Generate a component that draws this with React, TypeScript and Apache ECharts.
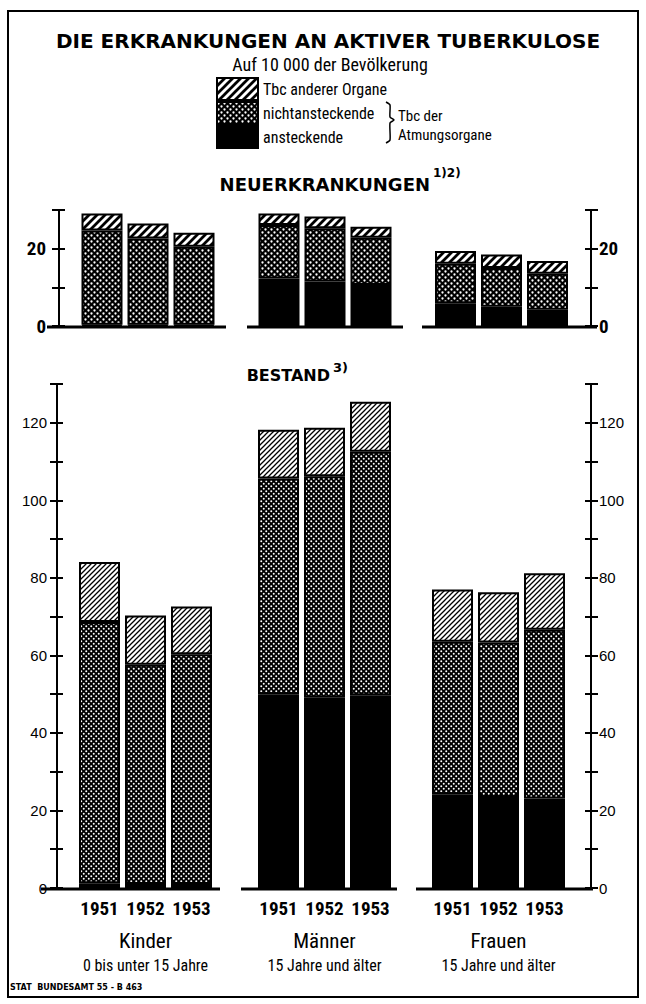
import React, { useEffect, useRef } from "react";
import * as echarts from "echarts";

// ---------- data ----------
const years = ["1951", "1952", "1953"];
const groupNames = ["Kinder", "Männer", "Frauen"];
const groupSubtitles = ["0 bis unter 15 Jahre", "15 Jahre und älter", "15 Jahre und älter"];
const seriesNames = ["ansteckende", "nichtansteckende", "Tbc anderer Organe"];
const legendOrder = ["Tbc anderer Organe", "nichtansteckende", "ansteckende"];

// Neuerkrankungen (auf 10 000 der Bevölkerung), per group: Kinder, Männer, Frauen
const neuAnsteckende = [[0.3, 0.3, 0.3], [12.3, 11.5, 10.6], [5.9, 5.0, 4.2]];
const neuNichtansteckende = [[24.4, 22.3, 20.2], [13.8, 13.8, 12.2], [10.2, 10.0, 9.3]];
const neuAndereOrgane = [[4.4, 3.9, 3.6], [3.0, 3.0, 2.9], [3.3, 3.5, 3.3]];

// Bestand
const bestAnsteckende = [[1.2, 1.0, 1.0], [50.0, 49.2, 49.7], [24.2, 23.5, 23.1]];
const bestNichtansteckende = [[67.4, 56.6, 59.3], [55.6, 57.0, 62.8], [39.3, 39.8, 43.5]];
const bestAndereOrgane = [[15.5, 12.7, 12.3], [12.6, 12.5, 12.9], [13.5, 13.0, 14.6]];

const neuMax = 30;
const bestMax = 130;
const tickStep = 10;
const labelStep = 20;

// ---------- layout ----------
const W = 646;
const H = 1004;
const COND = "'Liberation Sans Narrow', 'Roboto Condensed', Roboto, sans-serif";
const SANS = "'Liberation Sans', Arial, sans-serif";
const BOLD = "'DejaVu Sans', sans-serif";

const panels = [
  { top: 210, zero: 326, max: neuMax, lefts: [79, 256, 432.5], axisL: 59, axisR: 591,
    baselines: [[47, 226], [247, 403], [422, 597]] },
  { top: 384, zero: 888, max: bestMax, lefts: [76.5, 255.5, 429.5], axisL: 57, axisR: 591,
    baselines: [[41, 220], [241, 397], [416, 593]] },
];
const GRID_W = 138;
const BAR_W = 41;

function hatchPattern(size: number, lw: number) {
  const c = document.createElement("canvas");
  c.width = size;
  c.height = size;
  const ctx = c.getContext("2d")!;
  ctx.fillStyle = "#fff";
  ctx.fillRect(0, 0, size, size);
  ctx.strokeStyle = "#000";
  ctx.lineWidth = lw;
  ctx.beginPath();
  ctx.moveTo(-2, size + 2);
  ctx.lineTo(size + 2, -2);
  ctx.moveTo(-2, 2);
  ctx.lineTo(2, -2);
  ctx.moveTo(size - 2, size + 2);
  ctx.lineTo(size + 2, size - 2);
  ctx.stroke();
  return { image: c, repeat: "repeat", imageWidth: size, imageHeight: size } as any;
}

function dotPattern(size: number, r: number) {
  const c = document.createElement("canvas");
  c.width = size;
  c.height = size;
  const ctx = c.getContext("2d")!;
  ctx.fillStyle = "#000";
  ctx.fillRect(0, 0, size, size);
  ctx.fillStyle = "#fff";
  ctx.beginPath();
  ctx.arc(size / 4, size / 4, r, 0, Math.PI * 2);
  ctx.closePath();
  ctx.moveTo((3 * size) / 4 + r, (3 * size) / 4);
  ctx.arc((3 * size) / 4, (3 * size) / 4, r, 0, Math.PI * 2);
  ctx.fill();
  return { image: c, repeat: "repeat", imageWidth: size, imageHeight: size } as any;
}

export default function App() {
  const ref = useRef<HTMLDivElement>(null);

  useEffect(() => {
    document.body.style.margin = "0";
    const chart = echarts.init(ref.current!, null, { renderer: "svg" });

    const fills = [
      ["#000", dotPattern(6, 1.15), hatchPattern(8, 2.8)],
      ["#000", dotPattern(5, 1.0), hatchPattern(5, 1.3)],
    ];
    const panelData = [
      [neuAnsteckende, neuNichtansteckende, neuAndereOrgane],
      [bestAnsteckende, bestNichtansteckende, bestAndereOrgane],
    ];

    const grids: any[] = [];
    const xAxes: any[] = [];
    const yAxes: any[] = [];
    const extraY: any[] = [];
    const series: any[] = [];
    const graphics: any[] = [];

    panels.forEach((pn, p) => {
      const height = pn.zero - pn.top;
      pn.lefts.forEach((left, g) => {
        const idx = p * 3 + g;
        grids.push({ left, top: pn.top, width: GRID_W, height, outerBoundsMode: "none", containLabel: false });
        if (p === 0) {
          xAxes.push({ type: "category", gridIndex: idx, data: years, show: false });
        } else {
          xAxes.push({
            type: "category", gridIndex: idx, data: years,
            axisLine: { show: false }, axisTick: { show: false },
            axisLabel: { interval: 0, margin: 11, fontSize: 19, fontWeight: "bold", fontFamily: COND, color: "#000" },
            name: `{a|${groupNames[g]}}\n{b|${groupSubtitles[g]}}`,
            nameLocation: "middle", nameGap: 40,
            nameTextStyle: {
              rich: {
                a: { fontSize: 21, fontFamily: COND, color: "#000", lineHeight: 26 },
                b: { fontSize: 16, fontFamily: COND, color: "#000", lineHeight: 22 },
              },
            },
          });
        }
        const base = { type: "value", gridIndex: idx, min: 0, max: pn.max, interval: tickStep, splitLine: { show: false } };
        if (g === 1) {
          yAxes.push({ ...base, show: false });
        } else {
          const isLeft = g === 0;
          const offset = isLeft ? left - pn.axisL : pn.axisR - (left + GRID_W);
          const labelFont = p === 0
            ? { fontSize: 19, fontWeight: "bold", fontFamily: COND }
            : { fontSize: 15, fontFamily: SANS };
          yAxes.push({
            ...base,
            position: isLeft ? "left" : "right",
            offset,
            axisLine: { show: true, lineStyle: { color: "#000", width: 2 } },
            axisTick: { show: true, length: 7, lineStyle: { color: "#000", width: 2 } },
            axisLabel: {
              ...labelFont,
              color: "#000",
              margin: isLeft ? (p === 0 ? 13 : 10) : 8,
              formatter: (v: number) => (v % labelStep === 0 && v < pn.max ? String(v) : ""),
            },
          });
          extraY.push({
            ...base,
            position: isLeft ? "left" : "right",
            offset,
            axisLine: { show: false },
            axisLabel: { show: false },
            axisTick: { show: true, inside: true, length: 6, lineStyle: { color: "#000", width: 2 } },
          });
        }
        seriesNames.forEach((name, s) => {
          series.push({
            type: "bar",
            name,
            xAxisIndex: idx,
            yAxisIndex: idx,
            stack: "stack" + idx,
            barWidth: BAR_W,
            data: panelData[p][s][g],
            itemStyle: { color: fills[p][s], borderColor: "#000", borderWidth: 2 },
            emphasis: { disabled: true },
          });
        });
        const [x1, x2] = pn.baselines[g];
        graphics.push({
          type: "line", silent: true,
          shape: { x1, y1: pn.zero + 1, x2, y2: pn.zero + 1 },
          style: { stroke: "#000", lineWidth: 3 },
        });
      });
    });

    const txt = (text: string, x: number, y: number, font: any, align = "left") => ({
      type: "text", x, y, silent: true,
      style: { text, fill: "#000", align, textAlign: align, verticalAlign: "middle", textVerticalAlign: "middle", ...font },
    });

    graphics.push(
      { type: "rect", silent: true, shape: { x: 8, y: 11, width: 630, height: 986 },
        style: { fill: "none", stroke: "#000", lineWidth: 2 } },
      txt("DIE ERKRANKUNGEN AN AKTIVER TUBERKULOSE", 328, 41, { fontSize: 20, fontWeight: "bold", fontFamily: BOLD }, "center"),
      txt("Auf 10 000 der Bevölkerung", 330, 64, { fontSize: 18, fontFamily: COND }, "center"),
      txt("Tbc der", 398, 116, { fontSize: 15, fontFamily: COND }),
      txt("Atmungsorgane", 398, 135, { fontSize: 15, fontFamily: COND }),
      { type: "polyline", silent: true,
        shape: { points: [[386, 102], [390, 105], [390, 117], [394, 120], [390, 123], [390, 140], [386, 143]], smooth: 0.2 },
        style: { stroke: "#000", lineWidth: 1.5, fill: "none" } },
      txt("NEUERKRANKUNGEN", 430, 184, { fontSize: 18, fontWeight: "bold", fontFamily: BOLD }, "right"),
      txt("1)2)", 433, 173, { fontSize: 12, fontWeight: "bold", fontFamily: BOLD }),
      txt("BESTAND", 330, 375, { fontSize: 16, fontWeight: "bold", fontFamily: BOLD }, "right"),
      txt("3)", 333, 367, { fontSize: 13, fontWeight: "bold", fontFamily: BOLD }),
      txt("STAT  BUNDESAMT 55 - B 463", 10, 987, { fontSize: 8, fontWeight: "bold", fontFamily: BOLD }),
    );

    chart.setOption({
      animation: false,
      backgroundColor: "#fff",
      legend: {
        data: legendOrder,
        orient: "vertical",
        left: 216,
        top: 77,
        padding: 0,
        itemWidth: 41,
        itemHeight: 22,
        itemGap: 0,
        icon: "rect",
        selectedMode: false,
        itemStyle: { borderColor: "#000", borderWidth: 2 },
        textStyle: { fontSize: 16, fontFamily: COND, color: "#000" },
      },
      grid: grids,
      xAxis: xAxes,
      yAxis: [...yAxes, ...extraY],
      series,
      graphic: graphics,
    });

    return () => chart.dispose();
  }, []);

  return <div ref={ref} style={{ width: W, height: H }} />;
}
